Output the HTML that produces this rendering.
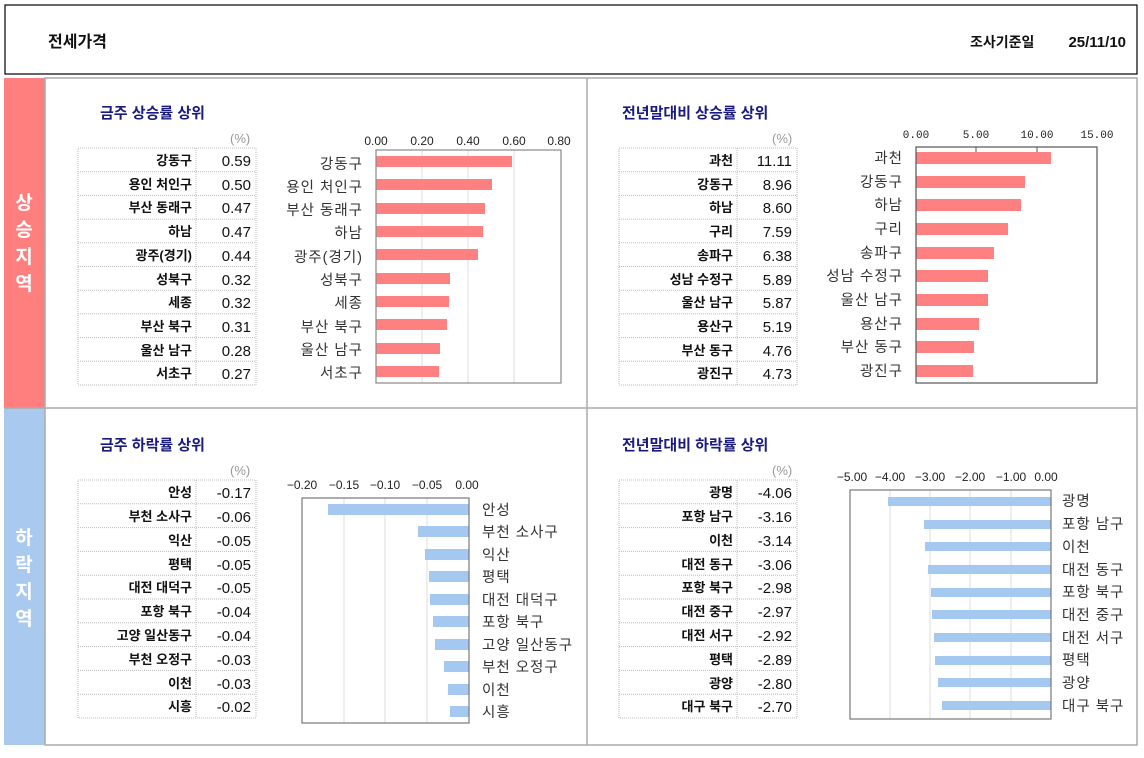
<!DOCTYPE html>
<html><head><meta charset="utf-8"><style>
html,body{margin:0;padding:0;background:#fff;width:1144px;height:758px;overflow:hidden}
svg{display:block;font-family:"Liberation Sans","Noto Sans CJK KR",sans-serif}
.tt{font-size:15px;font-weight:bold;fill:#1a1a80}
.pc{font-size:13px;fill:#999}
.tn{font-size:13px;font-weight:bold;fill:#111;text-anchor:end}
.tv{font-size:15px;fill:#111;text-anchor:end}
.cl{font-size:14.5px;fill:#333;letter-spacing:1px}
.ax{font-size:12px;fill:#222}
</style></head><body>
<svg width="1144" height="758" viewBox="0 0 1144 758">
<rect x="5" y="5" width="1132" height="69" fill="#fff" stroke="#000" stroke-width="1.2"/>
<text x="48" y="47" style="font-size:16px;font-weight:bold" fill="#111">전세가격</text>
<text x="970" y="47" style="font-size:14px;font-weight:bold" fill="#111">조사기준일</text>
<text x="1126" y="47" style="font-size:15px;font-weight:bold" fill="#111" text-anchor="end">25/11/10</text>
<rect x="4" y="78" width="41" height="330" fill="#ff7f7f"/>
<rect x="4" y="408" width="41" height="337" fill="#a9c9ef"/>
<g style="font-size:19px;font-weight:bold" fill="#fff" text-anchor="middle">
<text x="24" y="209">상</text><text x="24" y="236">승</text><text x="24" y="263">지</text><text x="24" y="290">역</text>
<text x="24" y="544">하</text><text x="24" y="571">락</text><text x="24" y="598">지</text><text x="24" y="625">역</text></g>
<rect x="45" y="78" width="1092" height="667" fill="none" stroke="#aaa" stroke-width="1.5"/>
<line x1="587" y1="78" x2="587" y2="745" stroke="#aaa" stroke-width="1.5"/>
<line x1="4" y1="408" x2="1137" y2="408" stroke="#aaa" stroke-width="1.5"/>

<!-- Panel 1 -->
<text x="100" y="118" class="tt">금주 상승률 상위</text>
<text x="230" y="143" class="pc">(%)</text>
<g stroke="#bbb" stroke-dasharray="1,1" fill="none"><rect x="78" y="148" width="178" height="237"/><line x1="196" y1="148" x2="196" y2="385"/>
<path d="M78 171.7H256M78 195.4H256M78 219.1H256M78 242.8H256M78 266.5H256M78 290.2H256M78 313.9H256M78 337.6H256M78 361.3H256"/></g>
<g class="tn"><text x="192" y="165">강동구</text><text x="192" y="189">용인 처인구</text><text x="192" y="212">부산 동래구</text><text x="192" y="236">하남</text><text x="192" y="260">광주(경기)</text><text x="192" y="284">성북구</text><text x="192" y="307">세종</text><text x="192" y="331">부산 북구</text><text x="192" y="355">울산 남구</text><text x="192" y="378">서초구</text></g>
<g class="tv"><text x="251" y="166">0.59</text><text x="251" y="190">0.50</text><text x="251" y="213">0.47</text><text x="251" y="237">0.47</text><text x="251" y="261">0.44</text><text x="251" y="285">0.32</text><text x="251" y="308">0.32</text><text x="251" y="332">0.31</text><text x="251" y="356">0.28</text><text x="251" y="379">0.27</text></g>
<g stroke="#ddd"><line x1="422" y1="150" x2="422" y2="383"/><line x1="468" y1="150" x2="468" y2="383"/><line x1="514" y1="150" x2="514" y2="383"/></g>
<g fill="#ff8080"><rect x="376" y="156" width="136" height="11"/><rect x="376" y="179" width="116" height="11"/><rect x="376" y="203" width="109" height="11"/><rect x="376" y="226" width="107" height="11"/><rect x="376" y="249" width="102" height="11"/><rect x="376" y="273" width="74" height="11"/><rect x="376" y="296" width="73" height="11"/><rect x="376" y="319" width="71" height="11"/><rect x="376" y="343" width="64" height="11"/><rect x="376" y="366" width="63" height="11"/></g>
<rect x="376" y="150" width="185" height="233" fill="none" stroke="#888" stroke-width="1.2"/>
<g class="ax" text-anchor="middle"><text x="376" y="145">0.00</text><text x="422" y="145">0.20</text><text x="468" y="145">0.40</text><text x="514" y="145">0.60</text><text x="559" y="145">0.80</text></g>
<g class="cl" text-anchor="end"><text x="363" y="169">강동구</text><text x="363" y="192">용인 처인구</text><text x="363" y="215">부산 동래구</text><text x="363" y="238">하남</text><text x="363" y="262">광주(경기)</text><text x="363" y="285">성북구</text><text x="363" y="308">세종</text><text x="363" y="332">부산 북구</text><text x="363" y="355">울산 남구</text><text x="363" y="378">서초구</text></g>

<!-- Panel 2 -->
<text x="622" y="118" class="tt">전년말대비 상승률 상위</text>
<text x="772" y="143" class="pc">(%)</text>
<g stroke="#bbb" stroke-dasharray="1,1" fill="none"><rect x="619" y="148" width="178" height="237"/><line x1="737" y1="148" x2="737" y2="385"/>
<path d="M619 171.7H797M619 195.4H797M619 219.1H797M619 242.8H797M619 266.5H797M619 290.2H797M619 313.9H797M619 337.6H797M619 361.3H797"/></g>
<g class="tn"><text x="733" y="165">과천</text><text x="733" y="189">강동구</text><text x="733" y="212">하남</text><text x="733" y="236">구리</text><text x="733" y="260">송파구</text><text x="733" y="284">성남 수정구</text><text x="733" y="307">울산 남구</text><text x="733" y="331">용산구</text><text x="733" y="355">부산 동구</text><text x="733" y="378">광진구</text></g>
<g class="tv"><text x="792" y="166">11.11</text><text x="792" y="190">8.96</text><text x="792" y="213">8.60</text><text x="792" y="237">7.59</text><text x="792" y="261">6.38</text><text x="792" y="285">5.89</text><text x="792" y="308">5.87</text><text x="792" y="332">5.19</text><text x="792" y="356">4.76</text><text x="792" y="379">4.73</text></g>
<g fill="#ff8080"><rect x="916" y="152" width="135" height="12"/><rect x="916" y="176" width="109" height="12"/><rect x="916" y="199" width="105" height="12"/><rect x="916" y="223" width="92" height="12"/><rect x="916" y="247" width="78" height="12"/><rect x="916" y="270" width="72" height="12"/><rect x="916" y="294" width="72" height="12"/><rect x="916" y="318" width="63" height="12"/><rect x="916" y="341" width="58" height="12"/><rect x="916" y="365" width="57" height="12"/></g>
<rect x="916" y="147" width="181" height="236" fill="none" stroke="#555" stroke-width="1.2"/>
<g stroke="#555"><line x1="976" y1="147" x2="976" y2="152"/><line x1="1037" y1="147" x2="1037" y2="152"/></g>
<g class="ax" style="font-family:'Liberation Mono',monospace;font-size:11px" text-anchor="middle"><text x="916" y="138">0.00</text><text x="976" y="138">5.00</text><text x="1037" y="138">10.00</text><text x="1097" y="138">15.00</text></g>
<g class="cl" text-anchor="end"><text x="903" y="163">과천</text><text x="903" y="187">강동구</text><text x="903" y="210">하남</text><text x="903" y="234">구리</text><text x="903" y="258">송파구</text><text x="903" y="281">성남 수정구</text><text x="903" y="305">울산 남구</text><text x="903" y="329">용산구</text><text x="903" y="352">부산 동구</text><text x="903" y="376">광진구</text></g>

<!-- Panel 3 -->
<text x="100" y="450" class="tt">금주 하락률 상위</text>
<text x="230" y="475" class="pc">(%)</text>
<g stroke="#bbb" stroke-dasharray="1,1" fill="none"><rect x="78" y="480" width="178" height="238"/><line x1="196" y1="480" x2="196" y2="718"/>
<path d="M78 503.8H256M78 527.6H256M78 551.4H256M78 575.2H256M78 599H256M78 622.8H256M78 646.6H256M78 670.4H256M78 694.2H256"/></g>
<g class="tn"><text x="192" y="497">안성</text><text x="192" y="521">부천 소사구</text><text x="192" y="545">익산</text><text x="192" y="569">평택</text><text x="192" y="592">대전 대덕구</text><text x="192" y="616">포항 북구</text><text x="192" y="640">고양 일산동구</text><text x="192" y="664">부천 오정구</text><text x="192" y="688">이천</text><text x="192" y="711">시흥</text></g>
<g class="tv"><text x="251" y="498">-0.17</text><text x="251" y="522">-0.06</text><text x="251" y="546">-0.05</text><text x="251" y="570">-0.05</text><text x="251" y="593">-0.05</text><text x="251" y="617">-0.04</text><text x="251" y="641">-0.04</text><text x="251" y="665">-0.03</text><text x="251" y="689">-0.03</text><text x="251" y="712">-0.02</text></g>
<g stroke="#ddd"><line x1="344" y1="498" x2="344" y2="723"/><line x1="385" y1="498" x2="385" y2="723"/><line x1="427" y1="498" x2="427" y2="723"/></g>
<g fill="#a4c8f0"><rect x="328" y="504" width="141" height="11"/><rect x="418" y="526" width="51" height="11"/><rect x="425" y="549" width="44" height="11"/><rect x="429" y="571" width="40" height="11"/><rect x="430" y="594" width="39" height="11"/><rect x="433" y="616" width="36" height="11"/><rect x="435" y="639" width="34" height="11"/><rect x="444" y="661" width="25" height="11"/><rect x="448" y="684" width="21" height="11"/><rect x="450" y="706" width="19" height="11"/></g>
<rect x="302" y="498" width="167" height="225" fill="none" stroke="#777" stroke-width="1.2"/>
<g class="ax" text-anchor="middle"><text x="302" y="489">−0.20</text><text x="344" y="489">−0.15</text><text x="385" y="489">−0.10</text><text x="427" y="489">−0.05</text><text x="467" y="489">0.00</text></g>
<g class="cl"><text x="482" y="515">안성</text><text x="482" y="537">부천 소사구</text><text x="482" y="560">익산</text><text x="482" y="582">평택</text><text x="482" y="605">대전 대덕구</text><text x="482" y="627">포항 북구</text><text x="482" y="650">고양 일산동구</text><text x="482" y="672">부천 오정구</text><text x="482" y="695">이천</text><text x="482" y="717">시흥</text></g>

<!-- Panel 4 -->
<text x="622" y="450" class="tt">전년말대비 하락률 상위</text>
<text x="772" y="475" class="pc">(%)</text>
<g stroke="#bbb" stroke-dasharray="1,1" fill="none"><rect x="619" y="480" width="178" height="238"/><line x1="737" y1="480" x2="737" y2="718"/>
<path d="M619 503.8H797M619 527.6H797M619 551.4H797M619 575.2H797M619 599H797M619 622.8H797M619 646.6H797M619 670.4H797M619 694.2H797"/></g>
<g class="tn"><text x="733" y="497">광명</text><text x="733" y="521">포항 남구</text><text x="733" y="545">이천</text><text x="733" y="569">대전 동구</text><text x="733" y="592">포항 북구</text><text x="733" y="616">대전 중구</text><text x="733" y="640">대전 서구</text><text x="733" y="664">평택</text><text x="733" y="688">광양</text><text x="733" y="711">대구 북구</text></g>
<g class="tv"><text x="792" y="498">-4.06</text><text x="792" y="522">-3.16</text><text x="792" y="546">-3.14</text><text x="792" y="570">-3.06</text><text x="792" y="593">-2.98</text><text x="792" y="617">-2.97</text><text x="792" y="641">-2.92</text><text x="792" y="665">-2.89</text><text x="792" y="689">-2.80</text><text x="792" y="712">-2.70</text></g>
<g stroke="#ddd"><line x1="890" y1="490" x2="890" y2="719"/><line x1="930" y1="490" x2="930" y2="719"/><line x1="970" y1="490" x2="970" y2="719"/><line x1="1011" y1="490" x2="1011" y2="719"/></g>
<g fill="#a4c8f0"><rect x="888" y="497" width="163" height="9"/><rect x="924" y="520" width="127" height="9"/><rect x="925" y="542" width="126" height="9"/><rect x="928" y="565" width="123" height="9"/><rect x="931" y="588" width="120" height="9"/><rect x="932" y="610" width="119" height="9"/><rect x="934" y="633" width="117" height="9"/><rect x="935" y="656" width="116" height="9"/><rect x="938" y="678" width="113" height="9"/><rect x="942" y="701" width="109" height="9"/></g>
<rect x="850" y="490" width="201" height="229" fill="none" stroke="#777" stroke-width="1.2"/>
<g class="ax" text-anchor="middle"><text x="852" y="481">−5.00</text><text x="890" y="481">−4.00</text><text x="930" y="481">−3.00</text><text x="970" y="481">−2.00</text><text x="1011" y="481">−1.00</text><text x="1046" y="481">0.00</text></g>
<g class="cl"><text x="1062" y="506">광명</text><text x="1062" y="529">포항 남구</text><text x="1062" y="552">이천</text><text x="1062" y="575">대전 동구</text><text x="1062" y="597">포항 북구</text><text x="1062" y="620">대전 중구</text><text x="1062" y="643">대전 서구</text><text x="1062" y="665">평택</text><text x="1062" y="688">광양</text><text x="1062" y="711">대구 북구</text></g>
</svg>
</body></html>
